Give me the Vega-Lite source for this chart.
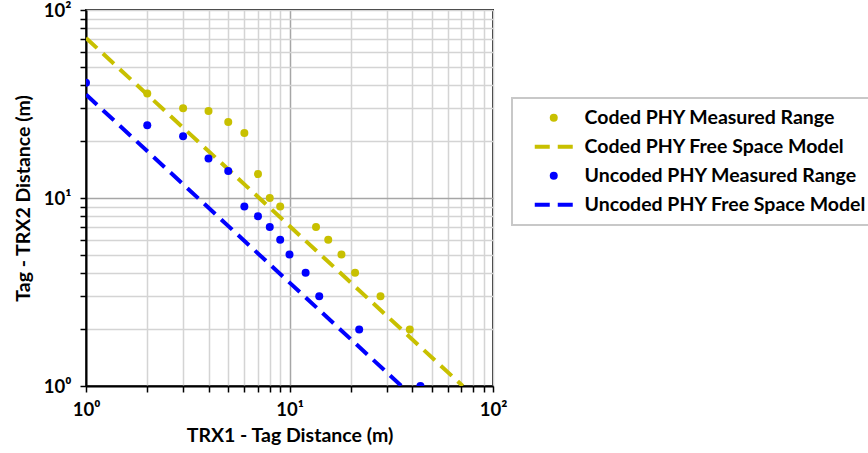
{
  "$schema": "https://vega.github.io/schema/vega-lite/v6.json",
  "autosize": "none",
  "width": 407,
  "height": 376,
  "padding": {"left": 86, "top": 10, "right": 375, "bottom": 67},
  "background": "white",
  "config": {
    "view": {"stroke": "#222222", "strokeWidth": 2},
    "font": "Lato",
    "legend": {"strokeWidth": 2},
    "axis": {
      "domainColor": "#000000",
      "domainWidth": 2,
      "tickColor": "#000000",
      "tickWidth": 1.5,
      "tickSize": 6,
      "labelFont": "Lato",
      "labelFontWeight": "bold",
      "labelFontSize": 18.5,
      "labelColor": "#000000",
      "labelOverlap": false,
      "labelFlush": false,
      "titleFont": "Lato",
      "titleFontWeight": "bold",
      "titleFontSize": 19.5,
      "titleColor": "#000000",
      "gridWidth": 1.5
    }
  },
  "data": {
    "values": [
      {"series": "Coded PHY Measured Range", "x": 2, "y": 36},
      {"series": "Coded PHY Measured Range", "x": 3, "y": 30},
      {"series": "Coded PHY Measured Range", "x": 4, "y": 29},
      {"series": "Coded PHY Measured Range", "x": 5, "y": 25.4},
      {"series": "Coded PHY Measured Range", "x": 6, "y": 22.2},
      {"series": "Coded PHY Measured Range", "x": 7, "y": 13.4},
      {"series": "Coded PHY Measured Range", "x": 8, "y": 10},
      {"series": "Coded PHY Measured Range", "x": 9, "y": 9},
      {"series": "Coded PHY Measured Range", "x": 13.5, "y": 7},
      {"series": "Coded PHY Measured Range", "x": 15.5, "y": 6},
      {"series": "Coded PHY Measured Range", "x": 18, "y": 5},
      {"series": "Coded PHY Measured Range", "x": 21, "y": 4},
      {"series": "Coded PHY Measured Range", "x": 28, "y": 3},
      {"series": "Coded PHY Measured Range", "x": 39, "y": 2},
      {"series": "Coded PHY Free Space Model", "x": 1, "y": 71},
      {"series": "Coded PHY Free Space Model", "x": 71, "y": 1},
      {"series": "Uncoded PHY Measured Range", "x": 1, "y": 41},
      {"series": "Uncoded PHY Measured Range", "x": 2, "y": 24.4},
      {"series": "Uncoded PHY Measured Range", "x": 3, "y": 21.3},
      {"series": "Uncoded PHY Measured Range", "x": 4, "y": 16.2},
      {"series": "Uncoded PHY Measured Range", "x": 5, "y": 13.9},
      {"series": "Uncoded PHY Measured Range", "x": 6, "y": 9},
      {"series": "Uncoded PHY Measured Range", "x": 7, "y": 8},
      {"series": "Uncoded PHY Measured Range", "x": 8, "y": 7},
      {"series": "Uncoded PHY Measured Range", "x": 9, "y": 6},
      {"series": "Uncoded PHY Measured Range", "x": 10, "y": 5},
      {"series": "Uncoded PHY Measured Range", "x": 12, "y": 4},
      {"series": "Uncoded PHY Measured Range", "x": 14, "y": 3},
      {"series": "Uncoded PHY Measured Range", "x": 22, "y": 2},
      {"series": "Uncoded PHY Measured Range", "x": 44, "y": 1},
      {"series": "Uncoded PHY Free Space Model", "x": 1, "y": 35.5},
      {"series": "Uncoded PHY Free Space Model", "x": 35.5, "y": 1}
    ]
  },
  "encoding": {
    "x": {
      "field": "x",
      "type": "quantitative",
      "scale": {"type": "log", "domain": [1, 100], "nice": false},
      "axis": {
        "title": "TRX1 - Tag Distance (m)",
        "values": [1, 2, 3, 4, 5, 6, 7, 8, 9, 10, 20, 30, 40, 50, 60, 70, 80, 90, 100],
        "labelExpr": "datum.value == 1 ? '10⁰' : datum.value == 10 ? '10¹' : datum.value == 100 ? '10²' : ''",
        "labelPadding": 8,
        "titlePadding": 8,
        "gridColor": {"condition": {"test": "datum.value == 10", "value": "#a6a6a6"}, "value": "#d4d4d4"}
      }
    },
    "y": {
      "field": "y",
      "type": "quantitative",
      "scale": {"type": "log", "domain": [1, 100], "nice": false},
      "axis": {
        "title": "Tag - TRX2 Distance (m)",
        "values": [1, 2, 3, 4, 5, 6, 7, 8, 9, 10, 20, 30, 40, 50, 60, 70, 80, 90, 100],
        "labelExpr": "datum.value == 1 ? '10⁰' : datum.value == 10 ? '10¹' : datum.value == 100 ? '10²' : ''",
        "labelPadding": 9,
        "titlePadding": 10,
        "gridColor": {"condition": {"test": "datum.value == 10", "value": "#a6a6a6"}, "value": "#d4d4d4"}
      }
    }
  },
  "layer": [
    {
      "transform": [{"filter": "datum.series == 'Coded PHY Free Space Model'"}],
      "mark": {"type": "line", "clip": true, "strokeWidth": 4, "strokeDash": [15, 8], "color": "#c8c000"}
    },
    {
      "transform": [{"filter": "datum.series == 'Uncoded PHY Free Space Model'"}],
      "mark": {"type": "line", "clip": true, "strokeWidth": 4, "strokeDash": [15, 8], "color": "#0000ff"}
    },
    {
      "transform": [{"filter": "indexof(datum.series, 'Measured') >= 0"}],
      "mark": {"type": "point", "filled": true, "clip": true, "size": 64, "opacity": 1, "strokeWidth": 0},
      "encoding": {
        "color": {
          "field": "series",
          "type": "nominal",
          "scale": {
            "domain": ["Coded PHY Measured Range", "Coded PHY Free Space Model", "Uncoded PHY Measured Range", "Uncoded PHY Free Space Model"],
            "range": ["#c8c000", "#c8c000", "#0000ff", "#0000ff"]
          },
          "legend": {
            "title": null,
            "orient": "none",
            "legendX": 426,
            "legendY": 88,
            "padding": 10,
            "fillColor": "white",
            "strokeColor": "#c8c8c8",
            "labelFont": "Lato",
            "labelFontWeight": "bold",
            "labelFontSize": 19.5,
            "labelColor": "#000000",
            "labelLimit": 400,
            "symbolSize": 64,
            "symbolStrokeWidth": 0,
            "symbolOpacity": 1,
            "symbolOffset": 22,
            "labelOffset": 21,
            "rowPadding": 8
          }
        },
        "shape": {
          "field": "series",
          "type": "nominal",
          "scale": {
            "domain": ["Coded PHY Measured Range", "Coded PHY Free Space Model", "Uncoded PHY Measured Range", "Uncoded PHY Free Space Model"],
            "range": ["circle", "M-4.75,-0.5L-1,-0.5L-1,0.5L-4.75,0.5ZM1,-0.5L4.75,-0.5L4.75,0.5L1,0.5Z", "circle", "M-4.75,-0.5L-1,-0.5L-1,0.5L-4.75,0.5ZM1,-0.5L4.75,-0.5L4.75,0.5L1,0.5Z"]
          }
        }
      }
    }
  ]
}
